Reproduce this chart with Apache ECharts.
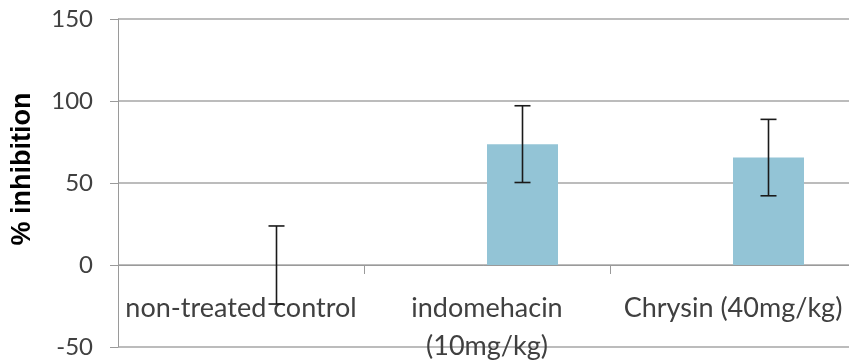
<!DOCTYPE html>
<html>
<head>
<meta charset="utf-8">
<script src="https://cdn.jsdelivr.net/npm/echarts@6/dist/echarts.min.js"></script>
<style>html,body{margin:0;padding:0;background:#fff;}#c{width:849px;height:360px;}</style>
</head>
<body>
<div id="c"></div>
<script>
var categories = ['non-treated control', 'indomehacin\n(10mg/kg)', 'Chrysin (40mg/kg)'];
var values = [0, 73.7, 65.5];
var errors = [23.8, 23.4, 23.3];
var hiddenValues = [0, 0, 0];
var yTicks = [-50, 0, 50, 100, 150];

var BAR_W = 71;
var FONT = 'Lato, "Liberation Sans", sans-serif';

var chart = echarts.init(document.getElementById('c'));
chart.setOption({
  animation: false,
  grid: { left: 118, right: -7, top: 19, bottom: 13, containLabel: false, outerBoundsMode: 'none' },
  xAxis: {
    type: 'category',
    data: categories,
    offset: -82,
    axisLine: { onZero: false, lineStyle: { color: '#9a9a9a', width: 1 } },
    axisTick: { show: true, length: 9, interval: 0, lineStyle: { color: '#9a9a9a' } },
    axisLabel: { interval: 0, color: '#404040', fontFamily: FONT, fontSize: 27, margin: 24, lineHeight: 38 },
    splitLine: { show: false }
  },
  yAxis: {
    type: 'value',
    min: yTicks[0], max: yTicks[yTicks.length - 1], interval: 50,
    name: '% inhibition',
    nameLocation: 'middle',
    nameGap: 82,
    nameTextStyle: { color: '#000', fontFamily: '"Liberation Sans", Arial, sans-serif', fontWeight: 'bold', fontSize: 27, padding: [0, 0, 0, 28] },
    axisLine: { show: true, lineStyle: { color: '#9a9a9a', width: 1 } },
    axisTick: { show: true, length: 8, lineStyle: { color: '#9a9a9a' } },
    axisLabel: { color: '#404040', fontFamily: FONT, fontSize: 24, margin: 25 },
    splitLine: { show: true, lineStyle: { color: '#a6a6a6', width: 1.5 } }
  },
  series: [
    { type: 'bar', data: hiddenValues, barWidth: BAR_W, barGap: '0%', itemStyle: { color: 'rgba(0,0,0,0)' } },
    { type: 'bar', data: values, barWidth: BAR_W, barGap: '0%', itemStyle: { color: '#93c4d6' }, z: 3 },
    {
      type: 'custom',
      z: 10,
      data: values.map(function (v, i) { return [i, v, errors[i]]; }),
      renderItem: function (params, api) {
        var i = api.value(0), v = api.value(1), e = api.value(2);
        var top = api.coord([i, v + e]);
        var bot = api.coord([i, v - e]);
        var x = top[0] + BAR_W / 2;
        var cap = 8;
        var st = { stroke: '#1a1a1a', lineWidth: 1.6 };
        return {
          type: 'group',
          children: [
            { type: 'line', shape: { x1: x, y1: top[1], x2: x, y2: bot[1] }, style: st },
            { type: 'line', shape: { x1: x - cap, y1: top[1], x2: x + cap, y2: top[1] }, style: st },
            { type: 'line', shape: { x1: x - cap, y1: bot[1], x2: x + cap, y2: bot[1] }, style: st }
          ]
        };
      }
    }
  ]
});
</script>
</body>
</html>
